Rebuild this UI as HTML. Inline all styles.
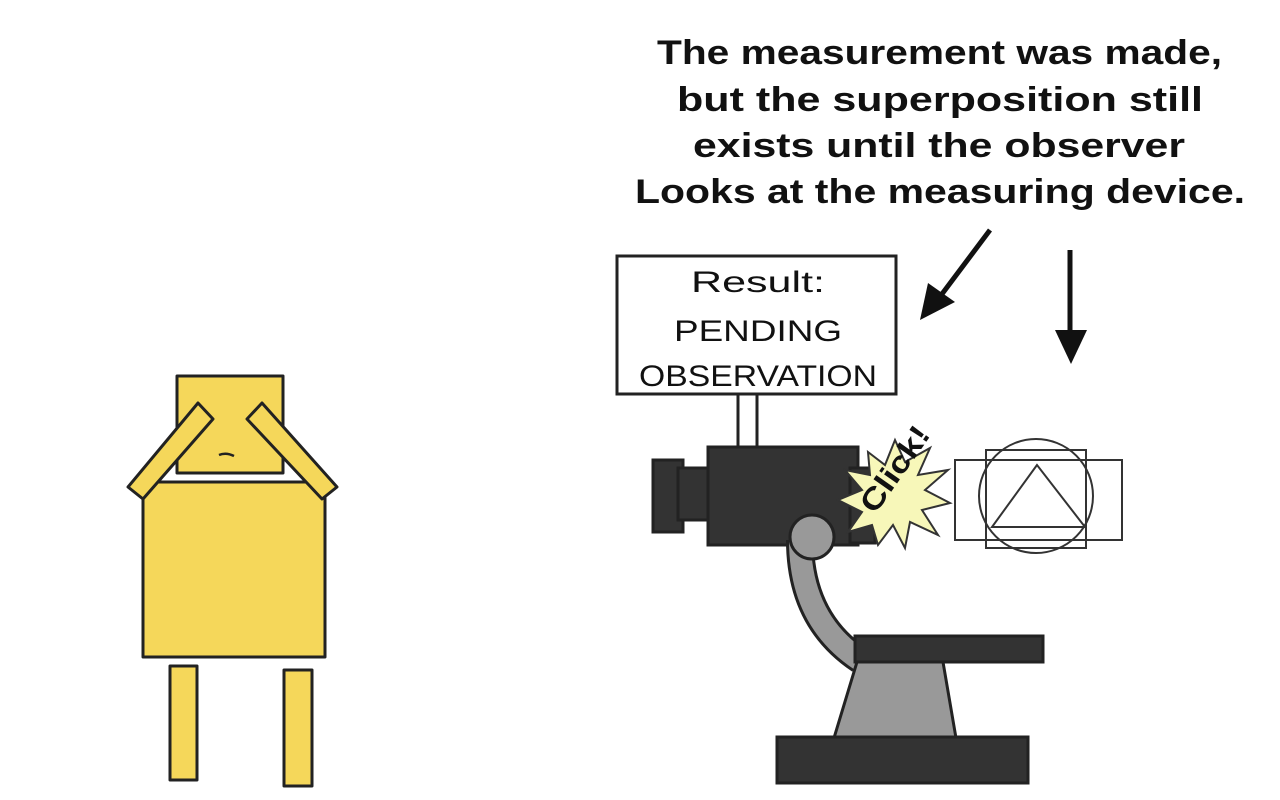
<!DOCTYPE html>
<html><head><meta charset="utf-8"><style>
html,body{margin:0;padding:0;background:#fff;}
svg{display:block;}
text{font-family:"Liberation Sans",sans-serif;fill:#111;}
</style></head><body>
<svg width="1280" height="800" viewBox="0 0 1280 800" xmlns="http://www.w3.org/2000/svg">
<rect width="1280" height="800" fill="#fff"/>
<g font-size="34" font-weight="bold" text-anchor="start">
<text x="657" y="64" textLength="565" lengthAdjust="spacingAndGlyphs">The measurement was made,</text>
<text x="677" y="111" textLength="526" lengthAdjust="spacingAndGlyphs">but the superposition still</text>
<text x="693" y="157" textLength="492" lengthAdjust="spacingAndGlyphs">exists until the observer</text>
<text x="635" y="203" textLength="610" lengthAdjust="spacingAndGlyphs">Looks at the measuring device.</text>
</g>
<g stroke="#111" stroke-width="5" fill="#111">
<line x1="990" y1="230" x2="942" y2="294"/>
<polygon points="920,320 928,283 955,302" stroke="none"/>
<line x1="1070" y1="250" x2="1070" y2="335"/>
<polygon points="1055,330 1087,330 1071,364" stroke="none"/>
</g>
<rect x="617" y="256" width="279" height="138" fill="#fff" stroke="#222" stroke-width="3"/>
<g font-size="30" text-anchor="middle">
<text x="758" y="292" textLength="134" lengthAdjust="spacingAndGlyphs">Result:</text>
<text x="758" y="341" textLength="168" lengthAdjust="spacingAndGlyphs">PENDING</text>
<text x="758" y="386" textLength="238" lengthAdjust="spacingAndGlyphs">OBSERVATION</text>
</g>
<rect x="738" y="394" width="19" height="54" fill="#fff" stroke="#222" stroke-width="3"/>
<g fill="#333" stroke="#222" stroke-width="3">
<rect x="653" y="460" width="30" height="72"/>
<rect x="678" y="468" width="35" height="52"/>
<rect x="708" y="447" width="150" height="98"/>
<rect x="850" y="468" width="25" height="75"/>
</g>
<polygon points="895,440 905,462 930,448 918,475 948,470 925,490 950,503 922,510 938,535 910,522 905,548 893,525 878,545 872,525 848,532 862,512 838,500 862,490 845,470 870,475 868,452 885,465" fill="#f7f7b9" stroke="#333" stroke-width="2"/>
<text x="0" y="0" font-size="30" font-weight="bold" transform="translate(875,515) rotate(-55)" textLength="98" lengthAdjust="spacingAndGlyphs">Click!</text>
<path d="M800,540 Q800,620 860,660" fill="none" stroke="#222" stroke-width="28"/>
<path d="M800,540 Q800,620 860,660" fill="none" stroke="#999" stroke-width="22"/>
<circle cx="812" cy="537" r="22" fill="#999" stroke="#222" stroke-width="3"/>
<polygon points="857,662 943,662 956,738 834,738" fill="#999" stroke="#222" stroke-width="3"/>
<rect x="855" y="636" width="188" height="26" fill="#333" stroke="#222" stroke-width="3"/>
<rect x="777" y="737" width="251" height="46" fill="#333" stroke="#222" stroke-width="3"/>
<g fill="none" stroke="#333" stroke-width="2">
<rect x="955" y="460" width="167" height="80"/>
<rect x="986" y="450" width="100" height="98"/>
<circle cx="1036" cy="496" r="57"/>
<polygon points="1037,465 992,527 1085,527"/>
</g>
<g fill="#f5d75a" stroke="#222" stroke-width="3" stroke-linejoin="round">
<rect x="177" y="376" width="106" height="97"/>
<rect x="143" y="482" width="182" height="175"/>
<rect x="170" y="666" width="27" height="114"/>
<rect x="284" y="670" width="28" height="116"/>
<polygon points="128,487 198,403 213,419 143,499"/>
<polygon points="247,419 262,403 337,487 322,499"/>
</g>
<path d="M219,455 Q226,452 234,456" fill="none" stroke="#222" stroke-width="2.5"/>
</svg>
</body></html>
